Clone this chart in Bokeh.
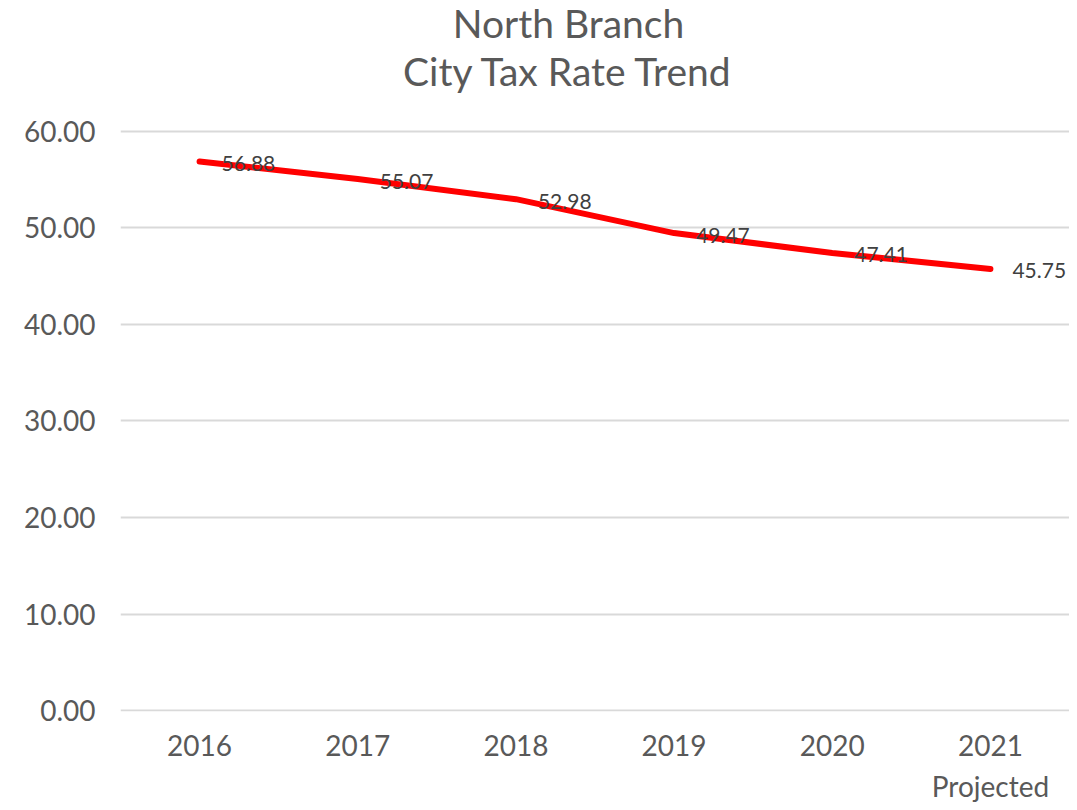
from bokeh.plotting import figure
from bokeh.layouts import column
from bokeh.models import ColumnDataSource, LabelSet, Range1d, FixedTicker, NumeralTickFormatter
from bokeh.core.properties import value
from bokeh.embed import file_html
from bokeh.resources import INLINE

years = ["2016", "2017", "2018", "2019", "2020", "2021"]
projected_note = "Projected"
rates = [56.88, 55.07, 52.98, 49.47, 47.41, 45.75]
rate_labels = ["56.88", "55.07", "52.98", "49.47", "47.41", "45.75"]
y_ticks = [0, 10, 20, 30, 40, 50, 60]
title_lines = ["North Branch", "City Tax Rate Trend"]

FONT = "Lato"
GREY = "#595959"
W = 1069
LEFT = 120


def bare(fig):
    fig.outline_line_color = None
    fig.axis.visible = False
    fig.grid.visible = False
    return fig


# ---- title strip ----
t = bare(figure(width=W, height=100, x_range=Range1d(LEFT, W), y_range=Range1d(0, 100),
                title=None, output_backend="svg", toolbar_location=None,
                min_border_left=LEFT, min_border_right=0, min_border_top=0, min_border_bottom=0))
tsrc = ColumnDataSource(dict(x=[568, 568], y=[78, 30], txt=title_lines))
t.text("x", "y", text="txt", source=tsrc, text_align="center", text_baseline="middle",
       text_font=value(FONT), text_font_size="39px", text_color=GREY)

# ---- main chart ----
src = ColumnDataSource(dict(x=years, y=rates, lab=rate_labels))
p = figure(width=W, height=668, x_range=years, y_range=Range1d(-0.1, 60.2),
           output_backend="svg", toolbar_location=None,
           min_border_left=LEFT, min_border_right=0, min_border_top=29, min_border_bottom=57)
p.outline_line_color = None

p.line("x", "y", source=src, line_color="#ff0000", line_width=6, line_join="round", line_cap="round")

labels = LabelSet(x="x", y="y", text="lab", source=src, x_offset=22, y_offset=-2,
                  text_baseline="middle", text_align="left", text_font=value(FONT),
                  text_font_size=value("21px"), text_color="#404040")
p.add_layout(labels)

p.yaxis.ticker = FixedTicker(ticks=y_ticks)
p.yaxis.formatter = NumeralTickFormatter(format="0.00")
p.yaxis.axis_line_color = None
p.yaxis.major_tick_line_color = None
p.yaxis.minor_tick_line_color = None
p.yaxis.major_tick_out = 0
p.yaxis.major_label_standoff = 25
p.yaxis.major_label_text_font = FONT
p.yaxis.major_label_text_font_size = "28px"
p.yaxis.major_label_text_color = GREY

p.xaxis.axis_line_color = None
p.xaxis.major_tick_line_color = None
p.xaxis.major_tick_out = 0
p.xaxis.major_label_standoff = 23
p.xaxis.major_label_text_font = FONT
p.xaxis.major_label_text_font_size = "28px"
p.xaxis.major_label_text_color = GREY

p.xgrid.grid_line_color = None
p.ygrid.grid_line_color = "#d9d9d9"
p.ygrid.grid_line_width = 2

# ---- second line of the last category label ----
b = bare(figure(width=W, height=34, x_range=p.x_range, y_range=Range1d(0, 34),
                title=None, output_backend="svg", toolbar_location=None,
                min_border_left=LEFT, min_border_right=0, min_border_top=0, min_border_bottom=0))
bsrc = ColumnDataSource(dict(x=[years[-1]], y=[17], txt=[projected_note]))
b.text("x", "y", text="txt", source=bsrc, text_align="center", text_baseline="middle",
       text_font=value(FONT), text_font_size="28px", text_color=GREY)

layout = column(t, p, b, spacing=0)
open("out.html", "w").write(file_html(layout, INLINE))
